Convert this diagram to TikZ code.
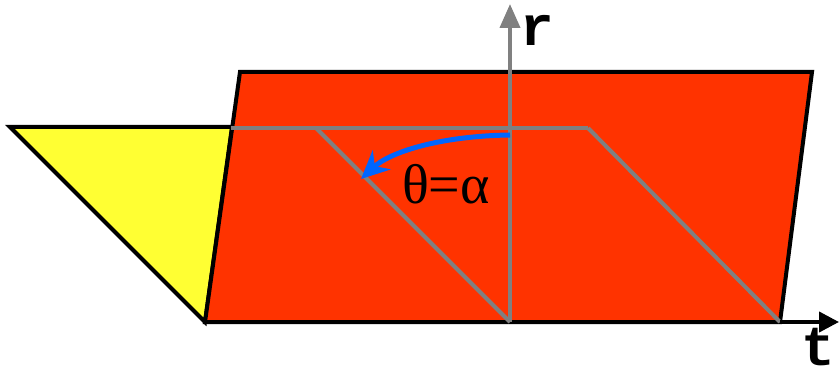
\documentclass[tikz,border=0pt]{standalone}
\usepackage{fontspec}
\setmainfont{Liberation Serif}
\newfontfamily\axisfont[BoldFont = {Liberation Mono Bold}]{Liberation Mono}
\usetikzlibrary{arrows.meta}
\definecolor{sheetred}{RGB}{255,51,0}
\definecolor{wedgeyellow}{RGB}{255,255,51}
\definecolor{rayblue}{RGB}{0,102,255}
\tikzset{
  edge/.style = {draw = black, line width = 2pt, line join = miter},
  ray/.style = {draw = gray, line width = 2pt},
  axislabel/.style = {font = \axisfont\bfseries\fontsize{28}{28}\selectfont, inner sep = 0pt}
}
\begin{document}
\begin{tikzpicture}[x = 0.5pt, y = -0.5pt]
\useasboundingbox (0,0) rectangle (840,379);
% corners of the sheet and the wedge
\coordinate (sheetTL) at (240,72);
\coordinate (sheetTR) at (812,72);
\coordinate (sheetBR) at (780,322);
\coordinate (sheetBL) at (205,322);
\coordinate (wedgeL) at (10,127);
\coordinate (wedgeR) at (232,127);
\coordinate (origin) at (510,322);
\coordinate (rtop) at (510,4);
\coordinate (tend) at (839,322);

\filldraw[edge, fill = wedgeyellow] (wedgeL) -- (wedgeR) -- (sheetBL) -- cycle;
\filldraw[edge, fill = sheetred] (sheetTL) -- (sheetTR) -- (sheetBR) -- (sheetBL) -- cycle;

% lines of constant phase
\coordinate (cA) at (316,128);
\coordinate (cB) at (588,128);
\draw[ray] (231,128) -- (cB);
\draw[ray] (cA) -- (origin);
\draw[ray] (cB) -- (sheetBR);

% axes
\draw[ray, -{Triangle[length = 12pt, width = 10pt]}] (origin) -- (rtop);
\draw[edge, -{Triangle[length = 10pt, width = 10pt]}] (sheetBR) -- (tend);
\node[axislabel] (rlab) at (537,30) {r};
\node[axislabel] (tlab) at (818,347) {t};

% angle
\coordinate (arcstart) at (510,135);
\coordinate (arcend) at (361,179);
\draw[rayblue, line width = 2.5pt, -{Stealth[length = 14pt, width = 13pt]}]
  (arcstart) .. controls (440,136) and (390,152) .. (arcend);
\node[font = \fontsize{28}{28}\selectfont, inner sep = 0pt] (angle) at (446,184) {θ=α};
\end{tikzpicture}
\end{document}
